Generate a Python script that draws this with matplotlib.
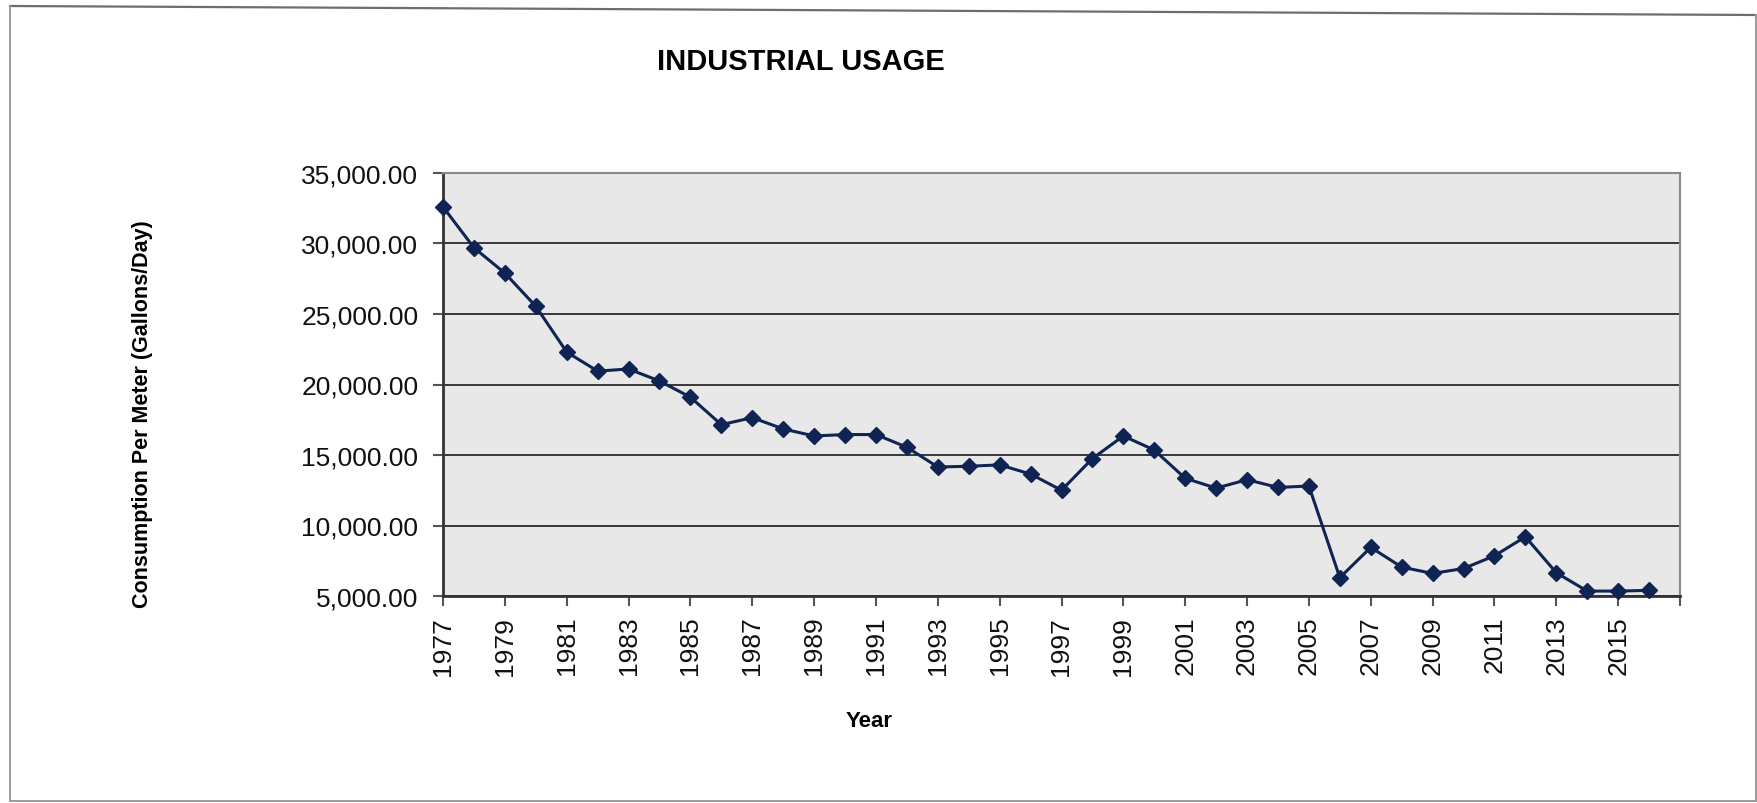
import matplotlib
matplotlib.use("Agg")
import matplotlib.pyplot as plt
from matplotlib.lines import Line2D
from matplotlib.ticker import FuncFormatter, FixedLocator

plt.rcParams['font.family'] = ['Liberation Sans', 'DejaVu Sans']

years = list(range(1977, 2017))
usage = [32600, 29700, 27900, 25550, 22300, 20950, 21100, 20250, 19100, 17150,
         17650, 16850, 16350, 16450, 16450, 15550, 14150, 14200, 14300, 13650,
         12500, 14750, 16350, 15350, 13350, 12650, 13250, 12700, 12800, 6300,
         8450, 7050, 6600, 6950, 7850, 9200, 6650, 5350, 5350, 5400]
title = "INDUSTRIAL USAGE"
xlabel = "Year"
ylabel = "Consumption Per Meter (Gallons/Day)"
ymin, ymax, ystep = 5000, 35000, 5000

W, H = 1758, 804
fig = plt.figure(figsize=(W / 100, H / 100), dpi=100)
fig.patch.set_facecolor('white')

# outer chart frame (slightly skewed top edge as in the scan)
frame_col = '#6e6e6e'
fig.add_artist(Line2D([10 / W, 1757 / W], [1 - 7 / H, 1 - 16 / H], color=frame_col, lw=1.6, transform=fig.transFigure))
fig.add_artist(Line2D([10 / W, 10 / W], [1 - 7 / H, 1 - 802 / H], color='#9a9a9a', lw=1.4, transform=fig.transFigure))
fig.add_artist(Line2D([10 / W, 1757 / W], [1 - 802 / H, 1 - 802 / H], color='#9a9a9a', lw=1.4, transform=fig.transFigure))
fig.add_artist(Line2D([1756 / W, 1756 / W], [1 - 16 / H, 1 - 802 / H], color='#9a9a9a', lw=1.4, transform=fig.transFigure))

left, right, top, bottom = 443 / W, 1680 / W, 1 - 174 / H, 1 - 597 / H
ax = fig.add_axes([left, bottom, right - left, top - bottom])
ax.set_facecolor('#e8e8e8')

xpos = list(range(len(years)))
ax.plot(xpos, usage, color='#0f2453', lw=2.2, marker='D', ms=8.5,
        markerfacecolor='#0f2453', markeredgecolor='#0f2453', zorder=3, clip_on=False)

ax.set_xlim(0, len(years))
ax.set_ylim(ymin, ymax)

yt = list(range(ymin, ymax + 1, ystep))
ax.yaxis.set_major_locator(FixedLocator(yt))
ax.yaxis.set_major_formatter(FuncFormatter(lambda v, p: f"{v:,.2f}"))
xt = list(range(0, len(years) + 1, 2))
ax.set_xticks(xt)
ax.set_xticklabels([str(years[i]) if i < len(years) else '' for i in xt], rotation=90)

ax.grid(axis='y', color='#2a2a2a', lw=1.3, zorder=1)
ax.set_axisbelow(True)

for s in ['top', 'right']:
    ax.spines[s].set_color('#8a8a8a')
    ax.spines[s].set_linewidth(1.5)
for s in ['left', 'bottom']:
    ax.spines[s].set_color('#333333')
    ax.spines[s].set_linewidth(2.0)

ax.tick_params(axis='both', direction='out', length=7.2, width=1.5, color='#555555',
               labelsize=19, labelcolor='#111111')
ax.tick_params(axis='y', pad=10.5)
ax.tick_params(axis='x', pad=7)

fig.text(801 / W, 1 - 62 / H, title, ha='center', va='center', fontsize=21, fontweight='bold')
fig.text(869 / W, 1 - 722 / H, xlabel, ha='center', va='center', fontsize=16, fontweight='bold')
fig.text(143 / W, 1 - 414 / H, ylabel, ha='center', va='center', rotation=90, fontsize=15.5, fontweight='bold')

fig.savefig('out.png', dpi=100, facecolor='white')
